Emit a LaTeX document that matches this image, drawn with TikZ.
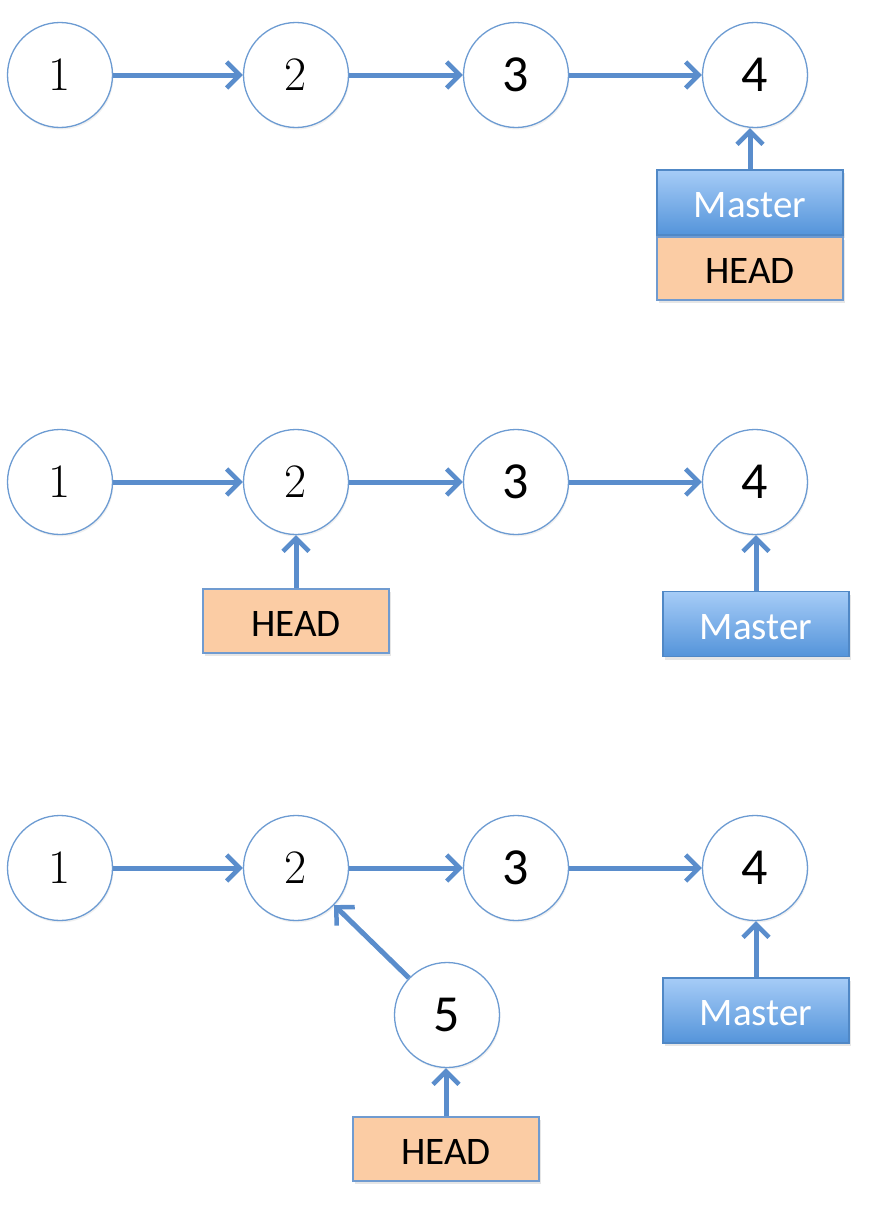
\documentclass[tikz,border=0pt]{standalone}
\usepackage{fontspec}
\newfontfamily\carlito{Carlito}
\usetikzlibrary{arrows.meta,shadows}

\definecolor{ringblue}{RGB}{108,155,210}
\definecolor{linkblue}{RGB}{90,141,204}
\definecolor{mastertop}{RGB}{166,204,247}
\definecolor{masterbot}{RGB}{84,148,218}
\definecolor{masteredge}{RGB}{80,136,198}
\definecolor{headfill}{RGB}{251,204,164}
\definecolor{headedge}{RGB}{112,155,208}

\tikzset{
  commit/.style={circle, draw=ringblue, line width=1.3pt, fill=white,
    minimum size=105pt, inner sep=0pt,
    drop shadow={shadow xshift=1pt, shadow yshift=-2pt, opacity=0.12}},
  lmdigit/.style={font=\fontsize{48}{48}\selectfont},
  sfdigit/.style={font=\carlito\fontsize{52}{52}\selectfont},
  link/.style={draw=linkblue, line width=5pt,
    -{Straight Barb[length=13pt, width=26pt, line width=4.5pt]}},
  refbox/.style={rectangle, minimum width=186pt, inner sep=0pt,
    text height=30pt, text depth=-2pt,
    font=\carlito\fontsize{39}{39}\selectfont,
    drop shadow={shadow xshift=2pt, shadow yshift=-3pt, opacity=0.2}},
  masterbox/.style={refbox, minimum height=65pt, draw=masteredge, line width=1.3pt,
    top color=mastertop, bottom color=masterbot, text=white},
  headbox/.style={refbox, minimum height=64pt, draw=headedge, line width=1.3pt,
    fill=headfill, text=black},
}

\begin{document}
\begin{tikzpicture}[x=1pt, y=-1pt]
\useasboundingbox (0,0) rectangle (876,1226);

% first state: HEAD attached to Master at commit 4
\node[commit, lmdigit] (a1) at (60,75) {1};
\node[commit, lmdigit] (a2) at (296,75) {2};
\node[commit, sfdigit] (a3) at (516,75) {3};
\node[commit, sfdigit] (a4) at (755,75) {4};
\node[masterbox] (am) at (750,202.5) {Master};
\node[headbox, minimum height=63pt] (ah) at (750,268.5) {HEAD};
\draw[link] (a1) -- (a2);
\draw[link] (a2) -- (a3);
\draw[link] (a3) -- (a4);
\draw[link] (am.north) -- (am.north |- a4.south);

% second state: detached HEAD on commit 2
\node[commit, lmdigit] (b1) at (60,482) {1};
\node[commit, lmdigit] (b2) at (296,482) {2};
\node[commit, sfdigit] (b3) at (516,482) {3};
\node[commit, sfdigit] (b4) at (755,482) {4};
\node[headbox] (bh) at (296,621) {HEAD};
\node[masterbox] (bm) at (756,624) {Master};
\draw[link] (b1) -- (b2);
\draw[link] (b2) -- (b3);
\draw[link] (b3) -- (b4);
\draw[link] (bh.north) -- (bh.north |- b2.south);
\draw[link] (bm.north) -- (bm.north |- b4.south);

% third state: new commit 5 on top of commit 2
\node[commit, lmdigit] (c1) at (60,868) {1};
\node[commit, lmdigit] (c2) at (296,868) {2};
\node[commit, sfdigit] (c3) at (516,868) {3};
\node[commit, sfdigit] (c4) at (755,868) {4};
\node[commit, sfdigit] (c5) at (447,1015) {5};
\node[masterbox] (cm) at (756,1010.5) {Master};
\node[headbox] (ch) at (446,1149) {HEAD};
\draw[link] (c1) -- (c2);
\draw[link] (c2) -- (c3);
\draw[link] (c3) -- (c4);
\draw[link] (c5) -- (c2);
\draw[link] (ch.north) -- (ch.north |- c5.south);
\draw[link] (cm.north) -- (cm.north |- c4.south);
\end{tikzpicture}
\end{document}
